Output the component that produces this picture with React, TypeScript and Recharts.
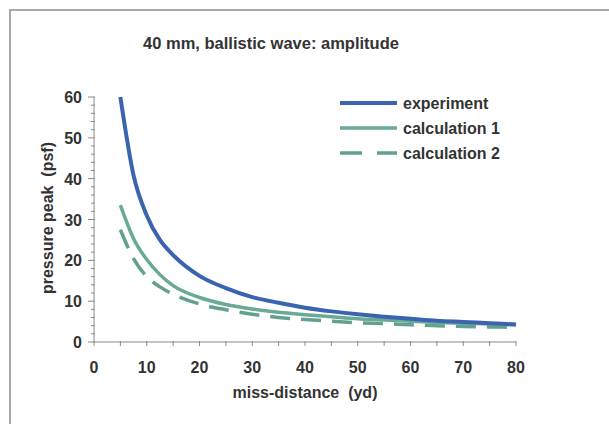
import React from "react";
import { LineChart, Line, XAxis, YAxis } from "recharts";

const distances = [5, 7.5, 10, 12.5, 15, 20, 25, 30, 35, 40, 45, 50, 55, 60, 65, 70, 75, 80];
const experiment = [60, 40.8, 31, 25, 21.3, 16.2, 13.2, 11.0, 9.6, 8.4, 7.5, 6.8, 6.2, 5.7, 5.2, 4.9, 4.6, 4.3];
const calculation1 = [33.5, 25.3, 20.2, 16.5, 13.8, 10.9, 9.2, 8.1, 7.3, 6.7, 6.2, 5.7, 5.4, 5.1, 4.8, 4.6, 4.4, 4.2];
const calculation2 = [27.5, 20.4, 16.0, 13.5, 11.7, 9.3, 7.9, 6.8, 6.0, 5.5, 5.1, 4.7, 4.5, 4.2, 4.0, 3.8, 3.7, 3.6];

const xTicks = [0, 5, 10, 15, 20, 25, 30, 35, 40, 45, 50, 55, 60, 65, 70, 75, 80];
const yTicks = [0, 2, 4, 6, 8, 10, 12, 14, 16, 18, 20, 22, 24, 26, 28, 30, 32, 34, 36, 38, 40, 42, 44, 46, 48, 50, 52, 54, 56, 58, 60];

const title = "40 mm, ballistic wave: amplitude";
const xTitle = "miss-distance\u00a0\u00a0(yd)";
const yTitle = "pressure peak\u00a0\u00a0(psf)";
const seriesNames = ["experiment", "calculation 1", "calculation 2"];

const data = distances.map((d, i) => ({
  d,
  experiment: experiment[i],
  calc1: calculation1[i],
  calc2: calculation2[i],
}));

const FONT = "'Liberation Sans', Arial, sans-serif";
const TEXT = "#333333";
const AXIS = "#8a8a8a";
const BLUE = "#3a64b0";
const GREEN1 = "#6aa996";
const GREEN2 = "#62a190";

const YTick = (props: any) => {
  const { x, y, payload } = props;
  const v = payload.value;
  const major = v % 10 === 0;
  return (
    <g>
      <line x1={major ? x - 6 : x - 3} x2={x + 1} y1={y} y2={y} stroke={AXIS} strokeWidth={1} />
      {major && (
        <text x={x - 12} y={y} dy={6} textAnchor="end" fontFamily={FONT} fontWeight="bold" fontSize={16} fill={TEXT}>
          {v}
        </text>
      )}
    </g>
  );
};

const XTick = (props: any) => {
  const { x, y, payload } = props;
  const v = payload.value;
  const major = v % 10 === 0;
  return (
    <g>
      <line x1={x} x2={x} y1={y - 1} y2={y + 4} stroke={AXIS} strokeWidth={1} />
      {major && (
        <text x={x} y={y} dy={31} textAnchor="middle" fontFamily={FONT} fontWeight="bold" fontSize={16} fill={TEXT}>
          {v}
        </text>
      )}
    </g>
  );
};

const LegendBox = () => {
  const items = [
    { name: seriesNames[0], color: BLUE, dash: undefined, w: 4 },
    { name: seriesNames[1], color: GREEN1, dash: undefined, w: 3.5 },
    { name: seriesNames[2], color: GREEN2, dash: "22 15", w: 3.5 },
  ];
  return (
    <svg width={220} height={75} style={{ position: "absolute", left: 340, top: 92 }}>
      {items.map((it, i) => (
        <g key={it.name}>
          <line x1={0} x2={57} y1={11 + i * 25} y2={11 + i * 25} stroke={it.color} strokeWidth={it.w} strokeDasharray={it.dash} />
          <text x={63} y={11 + i * 25} dy={5.5} fontFamily={FONT} fontWeight="bold" fontSize={16} fill={TEXT}>
            {it.name}
          </text>
        </g>
      ))}
    </svg>
  );
};

export default function App() {
  return (
    <div style={{ position: "absolute", left: 0, top: 0, width: 609, height: 424, background: "#fff", overflow: "hidden" }}>
      <div
        style={{
          position: "absolute",
          left: 9,
          top: 9,
          width: 620,
          height: 430,
          borderTop: "2px solid #a8a8a8",
          borderLeft: "2px solid #a8a8a8",
        }}
      />
      <div
        style={{
          position: "absolute",
          left: 0,
          width: 542,
          top: 33,
          textAlign: "center",
          fontFamily: FONT,
          fontWeight: "bold",
          fontSize: 16.5,
          color: TEXT,
          lineHeight: "20px",
        }}
      >
        {title}
      </div>
      <div style={{ position: "absolute", left: 0, top: 0 }}>
        <LineChart width={609} height={424} data={data} margin={{ top: 97, right: 93, bottom: 52, left: 34 }}>
          <XAxis
            dataKey="d"
            type="number"
            domain={[0, 80]}
            ticks={xTicks}
            interval={0}
            tickSize={0}
            tickMargin={0}
            tickLine={false}
            axisLine={{ stroke: AXIS, strokeWidth: 1 }}
            tick={<XTick />}
            height={30}
          />
          <YAxis
            type="number"
            domain={[0, 60]}
            ticks={yTicks}
            interval={0}
            tickSize={0}
            tickMargin={0}
            tickLine={false}
            axisLine={{ stroke: AXIS, strokeWidth: 1 }}
            tick={<YTick />}
            width={60}
          />
          <Line type="monotone" dataKey="calc2" stroke={GREEN2} strokeWidth={3.5} strokeDasharray="20 11" dot={false} isAnimationActive={false} />
          <Line type="monotone" dataKey="calc1" stroke={GREEN1} strokeWidth={3.5} dot={false} isAnimationActive={false} />
          <Line type="monotone" dataKey="experiment" stroke={BLUE} strokeWidth={4} dot={false} isAnimationActive={false} />
        </LineChart>
      </div>
      <LegendBox />
      <div
        style={{
          position: "absolute",
          left: 205,
          width: 200,
          top: 383,
          textAlign: "center",
          fontFamily: FONT,
          fontWeight: "bold",
          fontSize: 16,
          color: TEXT,
          lineHeight: "20px",
          whiteSpace: "pre",
        }}
      >
        {xTitle}
      </div>
      <div
        style={{
          position: "absolute",
          left: 48 - 100,
          width: 200,
          top: 218 - 10,
          height: 20,
          textAlign: "center",
          fontFamily: FONT,
          fontWeight: "bold",
          fontSize: 16,
          color: TEXT,
          lineHeight: "20px",
          whiteSpace: "pre",
          transform: "rotate(-90deg)",
        }}
      >
        {yTitle}
      </div>
    </div>
  );
}
